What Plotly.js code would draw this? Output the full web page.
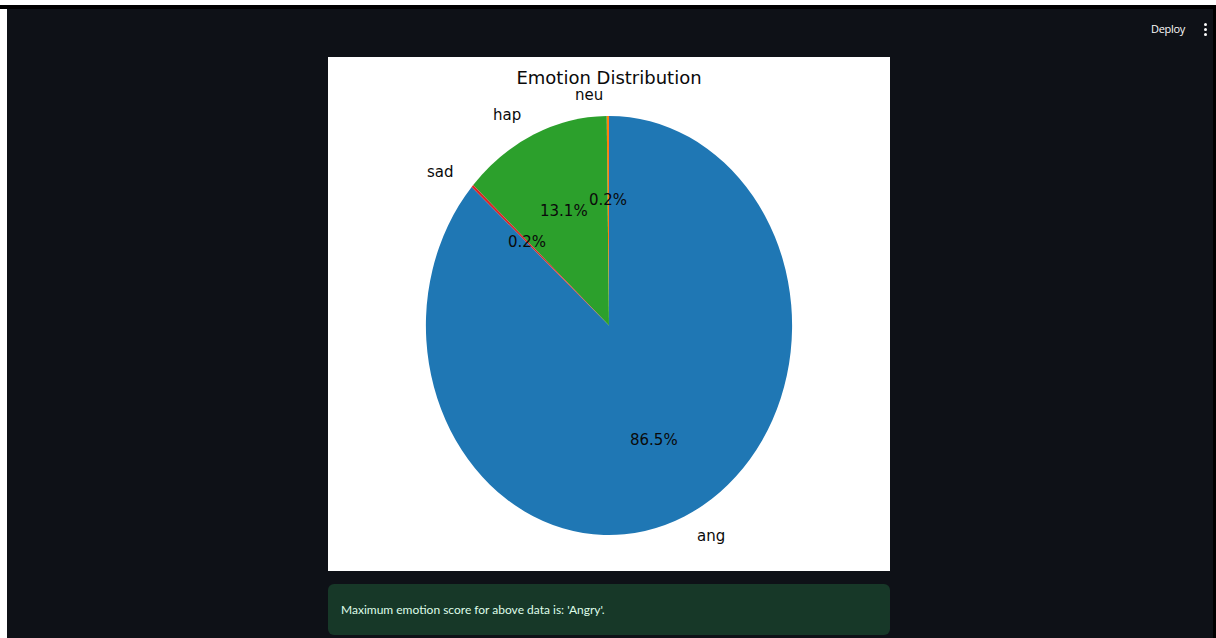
<!DOCTYPE html>
<html>
<head>
<meta charset="utf-8">
<script src="https://cdn.plot.ly/plotly-3.0.1.min.js"></script>
<style>
  html, body { margin:0; padding:0; width:1216px; height:638px; overflow:hidden; background:#0e1117; }
  #topwhite { position:absolute; left:0; top:0; width:1216px; height:5px; background:#ffffff; }
  #topblack { position:absolute; left:0; top:5px; width:1216px; height:4px; background:#000000; }
  #leftwhite { position:absolute; left:0; top:9px; width:7px; height:629px; background:#ffffff; }
  #rightblack { position:absolute; left:1213px; top:9px; width:3px; height:629px; background:#000000; }
  #deploy { position:absolute; left:1151px; top:21px; font-family:'Open Sans','Noto Sans',sans-serif; font-size:11px; color:#fafafa; letter-spacing:-0.3px; }
  .dot { position:absolute; left:1204px; width:3px; height:3px; border-radius:50%; background:#fafafa; }
  #chart { position:absolute; left:328px; top:57px; width:562px; height:514px; background:#ffffff; }
  #msg { position:absolute; left:328px; top:584px; width:562px; height:51px; background:rgb(23,56,40); border-radius:6px;
         font-family:'Lato','Noto Sans',sans-serif; font-size:12px; color:rgb(223,253,233); line-height:51px; box-sizing:border-box; padding-left:13px; }
</style>
</head>
<body>
<div id="topwhite"></div>
<div id="topblack"></div>
<div id="leftwhite"></div>
<div id="rightblack"></div>
<div id="deploy">Deploy</div>
<div class="dot" style="top:23px"></div>
<div class="dot" style="top:28px"></div>
<div class="dot" style="top:33px"></div>
<div id="chart"></div>
<div id="msg">Maximum emotion score for above data is: 'Angry'.</div>
<script>
// ---- data ----
const labels = ['ang', 'neu', 'hap', 'sad'];
const values = [86.5, 0.2, 13.1, 0.2];
const colors = ['#1f77b4', '#ff7f0e', '#2ca02c', '#d62728'];
const chartTitle = 'Emotion Distribution';

// ---- layout constants ----
const W = 562, H = 514;
const R = 209.5;          // pie radius in px (vertical)
const SX = 0.874;         // horizontal squeeze of the pie
const cyPx = 268.5;       // pie centre from top, px
const domY0 = (H - (cyPx + R)) / H;
const domY1 = (H - (cyPx - R)) / H;
const labelDist = 1.1, pctDist = 0.6;
const textFont = { family: 'DejaVu Sans', size: 15, color: '#0a0a0a' };

const total = values.reduce((a, b) => a + b, 0);
const cxP = 0.5, cyP = (domY0 + domY1) / 2;
const rxP = R * SX / W, ryP = R / H;

const annotations = [];
let theta = 90 - 360 * values[0] / total;
values.forEach((v, i) => {
  const span = 360 * v / total;
  const mid = (theta + span / 2) * Math.PI / 180;
  theta += span;
  const c = Math.cos(mid), s = Math.sin(mid);
  annotations.push({
    xref: 'paper', yref: 'paper',
    x: cxP + labelDist * rxP * c, y: cyP + labelDist * ryP * s,
    text: labels[i], showarrow: false,
    xanchor: c > 0 ? 'left' : 'right', yanchor: 'middle',
    xshift: c > 0 ? 3 : -3,
    font: textFont
  });
  annotations.push({
    xref: 'paper', yref: 'paper',
    x: cxP + pctDist * rxP * c, y: cyP + pctDist * ryP * s,
    text: (100 * v / total).toFixed(1) + '%', showarrow: false,
    xanchor: 'center', yanchor: 'middle',
    font: textFont
  });
});

const trace = {
  type: 'pie',
  labels: labels,
  values: values,
  sort: false,
  direction: 'counterclockwise',
  rotation: 0,
  textinfo: 'none',
  hoverinfo: 'skip',
  marker: { colors: colors, line: { width: 0 } },
  domain: { x: [0, 1], y: [domY0, domY1] },
  showlegend: false
};

const layout = {
  width: W, height: H,
  margin: { l: 0, r: 0, t: 0, b: 0 },
  paper_bgcolor: '#ffffff',
  title: {
    text: chartTitle, x: 0.5, xanchor: 'center',
    y: 1 - 21 / H, yref: 'container', yanchor: 'middle',
    font: { family: 'DejaVu Sans', size: 18, color: '#0a0a0a' }
  },
  annotations: annotations
};

Plotly.newPlot('chart', [trace], layout, { staticPlot: true, displayModeBar: false }).then(gd => {
  const pl = gd.querySelector('.pielayer');
  if (pl) {
    const bb = pl.getBBox();
    const cx = bb.x + bb.width / 2;
    pl.setAttribute('transform', 'translate(' + (cx * (1 - SX)) + ',0) scale(' + SX + ',1)');
  }
});
</script>
</body>
</html>
